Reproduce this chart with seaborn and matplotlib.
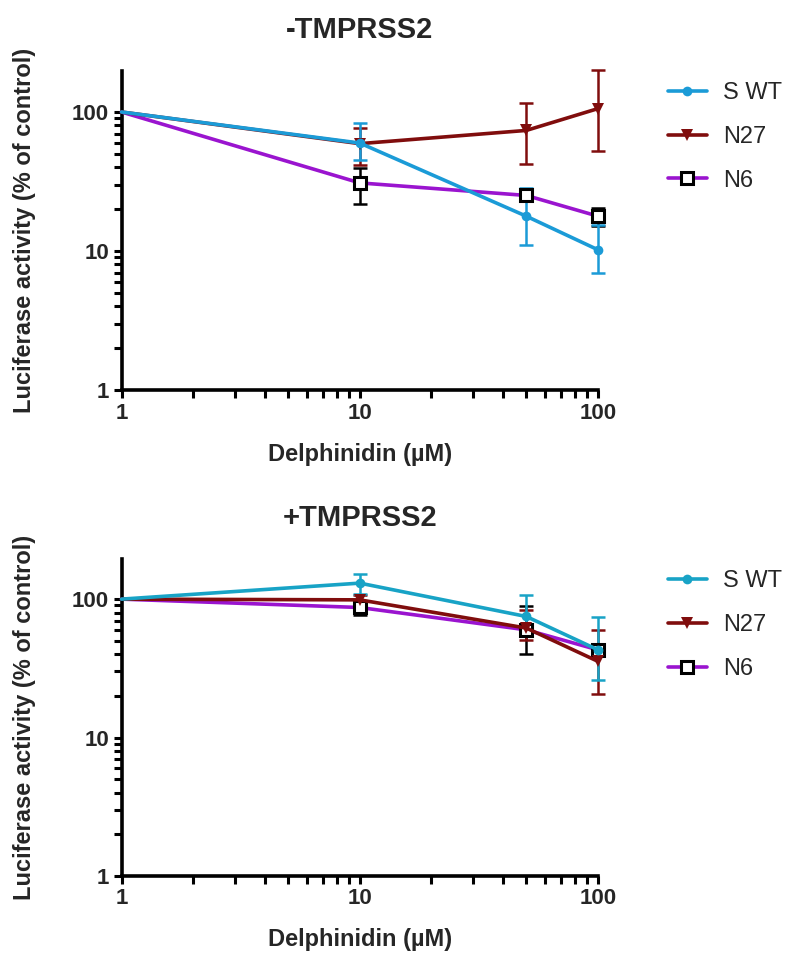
import numpy as np
import pandas as pd
import seaborn as sns
import matplotlib
matplotlib.use("Agg")
import matplotlib.pyplot as plt
from matplotlib.ticker import LogLocator, NullFormatter

# concentrations (uM)
conc = [1, 10, 50, 100]
series_names = ["S WT", "N27", "N6"]

# -TMPRSS2 : mean, lower and upper ends of error bars
minus_swt = [100, 59.8, 17.8, 10.2]
minus_swt_lo = [100, 45.5, 11.0, 6.95]
minus_swt_hi = [100, 83.3, 28.4, 15.3]
minus_n27 = [100, 59.2, 73.7, 105.8]
minus_n27_lo = [100, 41.4, 42.0, 52.4]
minus_n27_hi = [100, 77.0, 117.0, 199.6]
minus_n6 = [100, 30.9, 25.1, 17.8]
minus_n6_lo = [100, 21.7, 23.0, 15.2]
minus_n6_hi = [100, 39.8, 27.5, 20.5]

# +TMPRSS2
plus_swt = [100, 130.5, 74.9, 43.0]
plus_swt_lo = [100, 108.6, 54.3, 26.1]
plus_swt_hi = [100, 151.5, 107.4, 74.2]
plus_n27 = [100, 98.8, 61.8, 35.5]
plus_n27_lo = [100, 90.0, 50.9, 20.6]
plus_n27_hi = [100, 107.4, 83.7, 60.0]
plus_n6 = [100, 87.0, 60.0, 43.0]
plus_n6_lo = [100, 77.0, 40.3, 39.0]
plus_n6_hi = [100, 95.0, 88.5, 47.0]


def make_df(vals):
    rows = []
    for name, (m, lo, hi) in zip(series_names, vals):
        for c, a, b, d in zip(conc, m, lo, hi):
            rows.append({"series": name, "conc": c, "value": a, "lo": b, "hi": d})
    return pd.DataFrame(rows)


df_minus = make_df([(minus_swt, minus_swt_lo, minus_swt_hi),
                    (minus_n27, minus_n27_lo, minus_n27_hi),
                    (minus_n6, minus_n6_lo, minus_n6_hi)])
df_plus = make_df([(plus_swt, plus_swt_lo, plus_swt_hi),
                   (plus_n27, plus_n27_lo, plus_n27_hi),
                   (plus_n6, plus_n6_lo, plus_n6_hi)])

sns.set_style("ticks")
plt.rcParams["font.family"] = ["Liberation Sans", "DejaVu Sans"]

red = "#800d0d"
purple = "#9a14cf"
styles = {
    "S WT": dict(marker="o", ms=7, mew=0),
    "N27": dict(marker="v", ms=8, mew=0),
    "N6": dict(marker="s", ms=9, mfc="white", mec="black", mew=2.2),
}

fig = plt.figure(figsize=(7.85, 9.59), dpi=100)
ax1 = fig.add_axes([0.1548, 0.5933, 0.607, 0.3326])
ax2 = fig.add_axes([0.1548, 0.0866, 0.607, 0.3302])


def draw_panel(ax, df, blue, title, ymax):
    colors = {"S WT": blue, "N27": red, "N6": purple}
    err_colors = {"S WT": blue, "N27": red, "N6": "black"}
    ax.set_xscale("log")
    ax.set_yscale("log")
    for k, name in enumerate(["N6", "N27", "S WT"]):
        sub = df[df["series"] == name]
        eb = sub[sub["conc"] > 1]
        ax.errorbar(eb["conc"], eb["value"],
                    yerr=[eb["value"] - eb["lo"], eb["hi"] - eb["value"]],
                    fmt="none", ecolor=err_colors[name], elinewidth=1.8,
                    capsize=5, capthick=1.8, zorder=2 + k, clip_on=False)
        st = dict(styles[name])
        if name != "N6":
            st["mfc"] = colors[name]
            st["mec"] = colors[name]
        sns.lineplot(data=sub, x="conc", y="value", color=colors[name],
                     lw=2.6, label=name, ax=ax, zorder=5 + k,
                     markevery=[1, 2, 3], clip_on=False, **st)
    ax.set_xlim(1, 100)
    ax.set_ylim(1, ymax)
    ax.set_xticks([1, 10, 100])
    ax.set_xticklabels(["1", "10", "100"])
    ax.set_yticks([1, 10, 100])
    ax.set_yticklabels(["1", "10", "100"])
    for axis in (ax.xaxis, ax.yaxis):
        axis.set_minor_locator(LogLocator(base=10, subs=np.arange(2, 10)))
        axis.set_minor_formatter(NullFormatter())
    ax.tick_params(which="both", direction="out", width=2.2, length=5.5,
                   labelsize=16, color="black")
    for lab in ax.get_xticklabels() + ax.get_yticklabels():
        lab.set_fontweight("bold")
    sns.despine(ax=ax)
    for sp in ("left", "bottom"):
        ax.spines[sp].set_linewidth(2.6)
        ax.spines[sp].set_color("black")
    ax.set_title(title, fontsize=21, fontweight="bold", pad=24)
    ax.set_xlabel("Delphinidin (µM)", fontsize=17, fontweight="bold")
    ax.set_ylabel("Luciferase activity (% of control)", fontsize=17,
                  fontweight="bold")
    ax.yaxis.set_label_coords(-0.18, 0.5)
    ax.xaxis.set_label_coords(0.5, -0.165)
    h, l = ax.get_legend_handles_labels()
    lookup = dict(zip(l, h))
    leg = ax.legend([lookup[n] for n in series_names], series_names,
                    loc="upper left", bbox_to_anchor=(1.147, 0.965),
                    frameon=False, fontsize=17, borderpad=0, borderaxespad=0,
                    handlelength=1.64, handletextpad=0.68, labelspacing=0.92,
                    numpoints=1)
    for line in leg.get_lines():
        line.set_markevery([1])


draw_panel(ax1, df_minus, "#1b9bd7", "-TMPRSS2", 197)
draw_panel(ax2, df_plus, "#18a3c6", "+TMPRSS2", 194)

fig.savefig("out.png", dpi=100)
